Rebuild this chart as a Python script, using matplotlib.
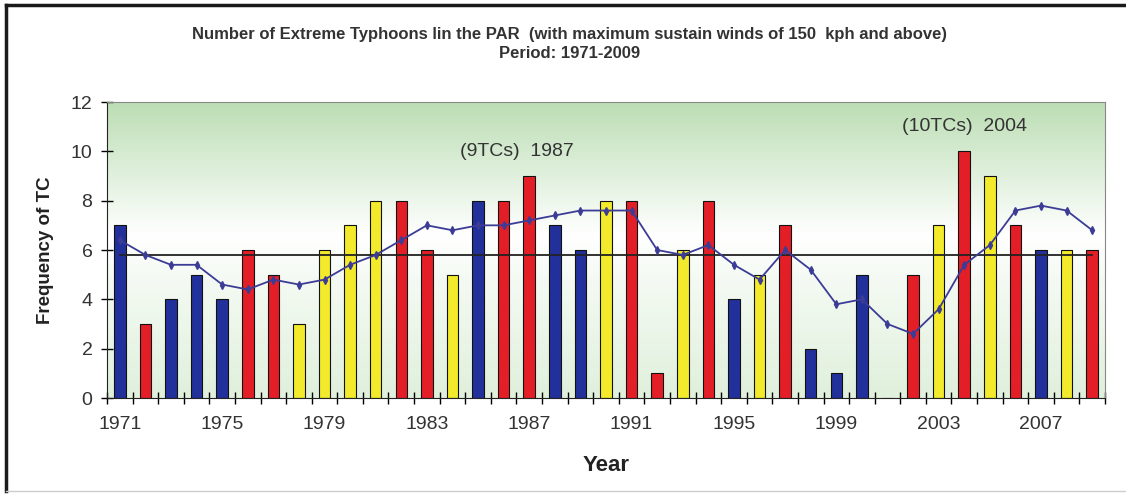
import numpy as np
import matplotlib.pyplot as plt
from matplotlib.colors import LinearSegmentedColormap
from matplotlib.lines import Line2D

years = list(range(1971, 2010))
freq = [7, 3, 4, 5, 4, 6, 5, 3, 6, 7, 8, 8, 6, 5, 8, 8, 9, 7, 6, 8,
        8, 1, 6, 8, 4, 5, 7, 2, 1, 5, 0, 5, 7, 10, 9, 7, 6, 6, 6]
# b = blue, r = red, y = yellow (as coloured in the original)
kind = ['b', 'r', 'b', 'b', 'b', 'r', 'r', 'y', 'y', 'y', 'y', 'r', 'r', 'y', 'b', 'r', 'r', 'b', 'b', 'y',
        'r', 'r', 'y', 'r', 'b', 'y', 'r', 'b', 'b', 'b', 'b', 'r', 'y', 'r', 'y', 'r', 'b', 'y', 'r']
moving = [6.4, 5.8, 5.4, 5.4, 4.6, 4.4, 4.8, 4.6, 4.8, 5.4, 5.8, 6.4, 7.0, 6.8, 7.0, 7.0, 7.2, 7.4, 7.6, 7.6,
          7.6, 6.0, 5.8, 6.2, 5.4, 4.8, 6.0, 5.2, 3.8, 4.0, 3.0, 2.6, 3.6, 5.4, 6.2, 7.6, 7.8, 7.6, 6.8]
mean_val = 5.8
label_years = list(range(1971, 2010, 4))

palette = {'b': '#22309c', 'r': '#e41e26', 'y': '#f2ea2a'}

fig = plt.figure(figsize=(11.26, 4.94), dpi=100)
ax = fig.add_axes([107/1126, 1-398/494, (1105-107)/1126, (398-102)/494])

# background gradient
cmap = LinearSegmentedColormap.from_list('bg', [(0.0, '#e0f0dc'), (0.4, '#f4faf3'), (0.55, '#ffffff'),
                                                (1.0, '#bcdeb4')])
grad = np.linspace(0, 1, 256).reshape(-1, 1)
ax.imshow(grad, extent=[1970.5, 2009.5, 0, 12], origin='lower', aspect='auto', cmap=cmap, zorder=0)

ax.bar(years, freq, width=0.45, color=[palette[k] for k in kind], edgecolor='#111111', linewidth=0.8, zorder=2)
ax.plot([years[0], years[-1]], [mean_val, mean_val], color='#222222', lw=1.3, zorder=3)
ax.plot(years, moving, color='#3c3c96', lw=1.3, marker='d', markersize=4, zorder=4)

ax.text(1986.5, 10.0, '(9TCs)  1987', fontsize=14, color='#333333', ha='center', va='center',
        family='Liberation Sans')
ax.text(2004.0, 11.0, '(10TCs)  2004', fontsize=14, color='#333333', ha='center', va='center',
        family='Liberation Sans')

ax.set_xlim(1970.5, 2009.5)
ax.set_ylim(0, 12)
ax.set_yticks(range(0, 13, 2))
ax.set_xticks(label_years)
ax.set_xticks(np.arange(1970.5, 2010, 1), minor=True)
ax.tick_params(axis='x', which='major', length=0, pad=13, labelsize=14, labelcolor='#333333')
ax.tick_params(axis='x', which='minor', length=9, direction='inout', width=1)
ax.tick_params(axis='y', length=9, direction='inout', width=1, labelsize=14, labelcolor='#333333', pad=6)
for t in ax.get_xticklabels() + ax.get_yticklabels():
    t.set_family('Liberation Sans')

ax.spines['left'].set_color('#222222')
ax.spines['bottom'].set_color('#222222')
ax.spines['top'].set_color('#888888')
ax.spines['right'].set_color('#888888')

ax.set_ylabel('Frequency of TC', fontsize=13.5, fontweight='bold', color='#222222', family='Liberation Sans',
              labelpad=12)
ax.set_xlabel('Year', fontsize=16, fontweight='bold', color='#222222', family='Liberation Sans', labelpad=16)

fig.text(0.506, 1-35/494, 'Number of Extreme Typhoons lin the PAR  (with maximum sustain winds of 150  kph and above)',
         ha='center', va='center', fontsize=12, fontweight='bold', color='#333333',
         family=['Liberation Sans Narrow', 'Liberation Sans'])
fig.text(0.506, 1-54/494, 'Period: 1971-2009', ha='center', va='center', fontsize=12, fontweight='bold',
         color='#333333', family=['Liberation Sans Narrow', 'Liberation Sans'])

# frame around the picture
fig.add_artist(Line2D([6/1126, 6/1126], [1-5/494, 1-491/494], color='#1a1a1a', lw=2.5))
fig.add_artist(Line2D([6/1126, 1.0], [1-5/494, 1-5/494], color='#1a1a1a', lw=2.5))
fig.add_artist(Line2D([6/1126, 1.0], [1-491/494, 1-491/494], color='#cccccc', lw=1))

fig.savefig('out.png', dpi=100)
